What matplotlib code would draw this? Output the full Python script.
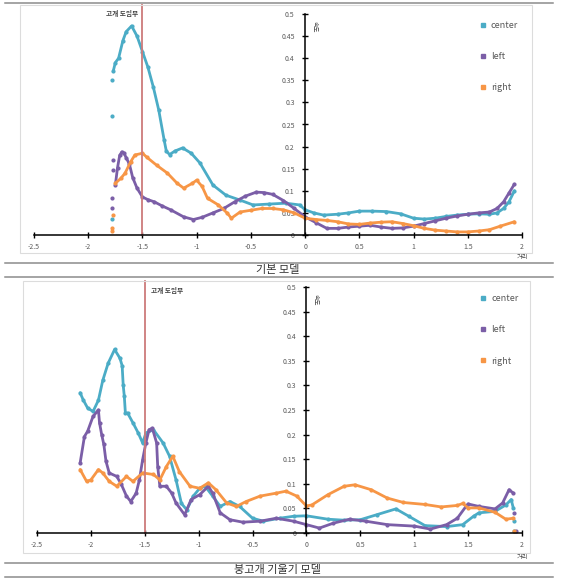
import matplotlib
matplotlib.use('Agg')
import matplotlib.pyplot as plt
from matplotlib.lines import Line2D
from matplotlib.patches import Rectangle
from matplotlib.ticker import MultipleLocator, FuncFormatter

plt.rcParams['font.family'] = ['Noto Sans CJK KR', 'DejaVu Sans']

# --- data (x = 거리, y = 속도) ---
center1_x = [-1.78, -1.78, -1.78, -1.77, -1.75, -1.72, -1.68, -1.65, -1.6, -1.55, -1.5, -1.45, -1.4, -1.35,
             -1.3, -1.28, -1.25, -1.2, -1.13, -1.05, -0.97, -0.85, -0.73, -0.6, -0.48, -0.33, -0.18, -0.05,
             0, 0.08, 0.17, 0.3, 0.4, 0.5, 0.62, 0.75, 0.88, 1.0, 1.1, 1.2, 1.3, 1.4, 1.5, 1.6, 1.7, 1.77,
             1.83, 1.88, 1.93]
center1_y = [0.036, 0.27, 0.35, 0.37, 0.39, 0.40, 0.44, 0.46, 0.473, 0.45, 0.415, 0.38, 0.335, 0.283,
             0.215, 0.19, 0.182, 0.19, 0.197, 0.185, 0.163, 0.113, 0.09, 0.079, 0.068, 0.07, 0.072, 0.068,
             0.057, 0.05, 0.045, 0.047, 0.05, 0.054, 0.054, 0.053, 0.048, 0.038, 0.036, 0.038, 0.042, 0.045,
             0.047, 0.048, 0.047, 0.05, 0.06, 0.075, 0.10]

left1_x = [-1.78, -1.78, -1.77, -1.77, -1.75, -1.73, -1.71, -1.69, -1.67, -1.65, -1.62, -1.59, -1.55, -1.5,
           -1.45, -1.39, -1.32, -1.24, -1.12, -1.03, -0.95, -0.85, -0.75, -0.65, -0.55, -0.45, -0.38, -0.3,
           -0.2, -0.1, 0, 0.1, 0.2, 0.3, 0.4, 0.5, 0.6, 0.7, 0.8, 0.9, 1.0, 1.1, 1.2, 1.3, 1.4, 1.5, 1.6,
           1.7, 1.77, 1.83, 1.88, 1.93]
left1_y = [0.06, 0.084, 0.17, 0.147, 0.113, 0.152, 0.18, 0.188, 0.185, 0.175, 0.16, 0.13, 0.106, 0.086,
           0.08, 0.075, 0.066, 0.057, 0.041, 0.035, 0.04, 0.05, 0.06, 0.075, 0.088, 0.097, 0.096, 0.092,
           0.078, 0.06, 0.041, 0.028, 0.015, 0.015, 0.018, 0.02, 0.022, 0.018, 0.015, 0.016, 0.02, 0.026,
           0.032, 0.038, 0.043, 0.047, 0.05, 0.052, 0.06, 0.075, 0.095, 0.115]

right1_x = [-1.78, -1.78, -1.77, -1.75, -1.7, -1.66, -1.61, -1.57, -1.5, -1.46, -1.37, -1.27, -1.18, -1.12,
            -1.04, -1.0, -0.95, -0.9, -0.8, -0.72, -0.68, -0.6, -0.5, -0.4, -0.3, -0.2, -0.1, 0, 0.1, 0.2,
            0.3, 0.4, 0.5, 0.6, 0.7, 0.8, 0.9, 1.0, 1.1, 1.2, 1.3, 1.4, 1.5, 1.6, 1.7, 1.8, 1.93]
right1_y = [0.008, 0.015, 0.045, 0.117, 0.128, 0.14, 0.165, 0.181, 0.185, 0.176, 0.158, 0.14, 0.117, 0.106,
            0.117, 0.124, 0.11, 0.083, 0.068, 0.05, 0.038, 0.052, 0.056, 0.06, 0.06, 0.057, 0.05, 0.038,
            0.035, 0.033, 0.03, 0.025, 0.024, 0.027, 0.029, 0.03, 0.026, 0.021, 0.015, 0.011, 0.009, 0.007,
            0.007, 0.009, 0.012, 0.02, 0.03]

center2_x = [-2.1, -2.07, -2.03, -1.98, -1.93, -1.89, -1.84, -1.78, -1.73, -1.71, -1.7, -1.69, -1.68, -1.66,
             -1.61, -1.56, -1.52, -1.49, -1.42, -1.33, -1.27, -1.21, -1.16, -1.11, -1.05, -0.99, -0.94, -0.87,
             -0.8, -0.71, -0.62, -0.5, -0.4, -0.25, -0.12, 0, 0.2, 0.35, 0.5, 0.65, 0.83, 0.95, 1.1, 1.3,
             1.45, 1.55, 1.6, 1.75, 1.85, 1.9, 1.92, 1.93, 1.93]
center2_y = [0.285, 0.27, 0.254, 0.247, 0.27, 0.31, 0.345, 0.373, 0.355, 0.34, 0.3, 0.278, 0.244, 0.244,
             0.224, 0.203, 0.183, 0.203, 0.21, 0.183, 0.156, 0.108, 0.06, 0.047, 0.075, 0.091, 0.095, 0.075,
             0.054, 0.064, 0.054, 0.03, 0.024, 0.03, 0.034, 0.035, 0.028, 0.026, 0.027, 0.037, 0.049, 0.034,
             0.015, 0.013, 0.017, 0.034, 0.041, 0.044, 0.057, 0.068, 0.05, 0.025, 0.005]

left2_x = [-2.1, -2.06, -2.03, -1.98, -1.93, -1.92, -1.9, -1.88, -1.86, -1.83, -1.76, -1.72, -1.67, -1.63,
           -1.58, -1.55, -1.52, -1.49, -1.46, -1.43, -1.39, -1.38, -1.36, -1.3, -1.25, -1.21, -1.13, -1.07,
           -0.99, -0.91, -0.87, -0.8, -0.71, -0.59, -0.43, -0.28, -0.12, 0, 0.12, 0.25, 0.4, 0.55, 0.75,
           1.0, 1.15, 1.3, 1.4, 1.48, 1.5, 1.6, 1.75, 1.82, 1.88, 1.92, 1.93, 1.94]
left2_y = [0.142, 0.196, 0.207, 0.237, 0.25, 0.224, 0.2, 0.18, 0.146, 0.122, 0.115, 0.1, 0.075, 0.064,
           0.081, 0.108, 0.149, 0.183, 0.21, 0.213, 0.183, 0.135, 0.095, 0.095, 0.081, 0.061, 0.037, 0.068,
           0.078, 0.095, 0.081, 0.041, 0.027, 0.022, 0.024, 0.03, 0.024, 0.017, 0.01, 0.02, 0.028, 0.024,
           0.017, 0.014, 0.008, 0.017, 0.03, 0.054, 0.059, 0.054, 0.049, 0.061, 0.088, 0.081, 0.04, 0.005]

right2_x = [-2.1, -2.04, -2.0, -1.93, -1.89, -1.83, -1.76, -1.67, -1.61, -1.52, -1.42, -1.36, -1.3, -1.24,
            -1.18, -1.08, -0.99, -0.91, -0.84, -0.74, -0.65, -0.56, -0.43, -0.28, -0.19, -0.09, 0, 0.05,
            0.2, 0.35, 0.45, 0.6, 0.75, 0.9, 1.1, 1.25, 1.4, 1.45, 1.5, 1.6, 1.75, 1.85, 1.92, 1.93]
right2_y = [0.129, 0.105, 0.108, 0.129, 0.122, 0.105, 0.095, 0.115, 0.105, 0.122, 0.119, 0.108, 0.135, 0.156,
            0.125, 0.095, 0.091, 0.102, 0.088, 0.061, 0.054, 0.064, 0.075, 0.081, 0.085, 0.075, 0.055, 0.057,
            0.078, 0.095, 0.098, 0.088, 0.071, 0.062, 0.058, 0.053, 0.056, 0.06, 0.051, 0.051, 0.042, 0.028,
            0.03, 0.005]

series_names = ['center', 'left', 'right']
series_colors = ['#4bacc6', '#7b5ea7', '#f79646']
entry_x = -1.5          # 고개 도입부 위치
captions = ['기본 모델', '붕고개 기울기 모델']

W, H = 563, 585
fig = plt.figure(figsize=(W / 100, H / 100), dpi=100)


def fx(px):
    return px / W


def fy(py):
    return 1 - py / H


def hline(py, x0=5, x1=553):
    fig.add_artist(Line2D([fx(x0), fx(x1)], [fy(py), fy(py)], color='#8c8c8c', lw=1.1))


def draw_panel(box, ax_px, data, spans, label_side, caption, cap_lines):
    # light border of the embedded chart
    bx0, by0, bx1, by1 = box
    fig.add_artist(Rectangle((fx(bx0), fy(by1)), fx(bx1) - fx(bx0), fy(by0) - fy(by1),
                             transform=fig.transFigure, fill=False, ec='#dcdcdc', lw=0.8))
    l, t, r, b = ax_px
    ax = fig.add_axes([fx(l), fy(b), fx(r) - fx(l), fy(t) - fy(b)])
    ax.patch.set_alpha(0)

    # scattered samples as dots, dense part as a thick trace
    for (xs, ys), (i0, i1), c in zip(data, spans, series_colors):
        ax.plot(xs, ys, ls='none', marker='o', ms=2.0, color=c)
        ax.plot(xs[i0:i1], ys[i0:i1], '-', color=c, lw=2.0, solid_capstyle='round')

    ax.set_xlim(-2.5, 2)
    ax.set_ylim(0, 0.5)
    for s in ['top', 'right']:
        ax.spines[s].set_visible(False)
    ax.spines['bottom'].set_position(('data', 0))
    ax.spines['left'].set_position(('data', 0))
    ax.spines['bottom'].set_linewidth(1.1)
    ax.spines['left'].set_linewidth(1.1)
    ax.xaxis.set_major_locator(MultipleLocator(0.5))
    ax.yaxis.set_major_locator(MultipleLocator(0.05))
    ax.xaxis.set_major_formatter(FuncFormatter(lambda v, p: f'{v:g}'))
    ax.yaxis.set_major_formatter(FuncFormatter(lambda v, p: f'{v:g}'))
    ax.tick_params(axis='both', direction='inout', length=5, width=1.0, labelsize=5,
                   labelcolor='#595959')
    ax.tick_params(axis='x', pad=3)
    ax.tick_params(axis='y', pad=5)

    # 고개 도입부 reference line
    top = (b - by0) / (b - t)
    ax.axvline(entry_x, ymin=0, ymax=top, color='#cd7b7b', lw=1.3, clip_on=False)
    if label_side == 'left':
        ax.text(entry_x - 0.04, 0.502, '고개 도입부', ha='right', va='center',
                fontsize=4.8, fontweight='bold', color='#404040')
    else:
        ax.text(entry_x + 0.06, 0.493, '고개 도입부', ha='left', va='center',
                fontsize=4.8, fontweight='bold', color='#404040')

    ax.text(0.05, 0.485, '속도', rotation=-90, ha='left', va='top', fontsize=4.5, color='#404040')
    ax.text(2, -0.04, '거리', ha='center', va='top', fontsize=4.5, color='#404040')

    handles = [Line2D([], [], ls='none', marker='s', ms=2.2, color=c) for c in series_colors]
    ax.legend(handles, series_names, loc='upper left', bbox_to_anchor=(0.905, 0.985), frameon=False,
              fontsize=6.5, labelcolor='#595959', handlelength=0.8, handletextpad=0.5,
              labelspacing=2.45, borderaxespad=0)

    hline(cap_lines[0])
    hline(cap_lines[1])
    fig.text(fx(278), fy((cap_lines[0] + cap_lines[1]) / 2), caption, ha='center', va='center',
             fontsize=8, color='#333333')
    return ax


hline(3)
draw_panel((20, 5, 532, 253), (34, 14, 522, 235),
           [(center1_x, center1_y), (left1_x, left1_y), (right1_x, right1_y)],
           [(3, None), (4, None), (3, None)],
           'left', captions[0], (263, 277))
draw_panel((23, 281, 530, 553), (37, 287, 522, 533),
           [(center2_x, center2_y), (left2_x, left2_y), (right2_x, right2_y)],
           [(0, -2), (0, -2), (0, -1)],
           'right', captions[1], (563, 577))

fig.savefig('out.png', dpi=100)
